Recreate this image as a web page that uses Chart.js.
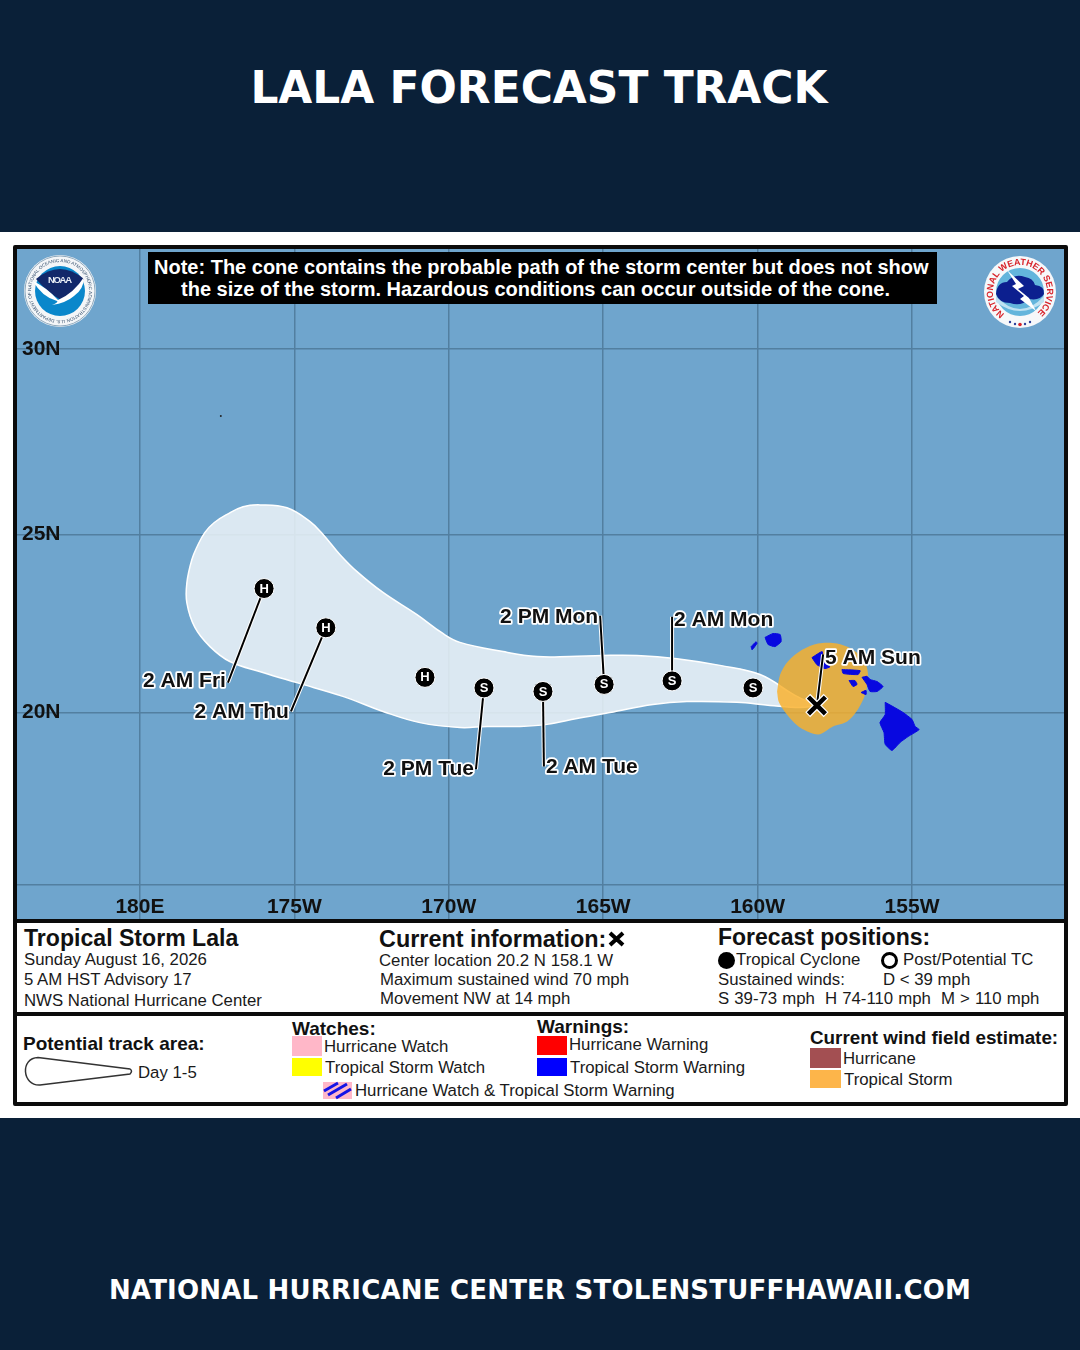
<!DOCTYPE html>
<html>
<head>
<meta charset="utf-8">
<title>Lala forecast track</title>
<script src="https://cdn.jsdelivr.net/npm/chart.js@4"></script>
<style>
html,body{margin:0;padding:0;background:#0a2038;}
#page{position:relative;width:1080px;height:1350px;overflow:hidden;background:#0a2038;font-family:"Liberation Sans",Arial,sans-serif;color:#1a1a1a;}
#white{position:absolute;left:0;top:232px;width:1080px;height:886px;background:#fff;}
#frame{position:absolute;left:13px;top:245px;width:1047px;height:853px;border:4px solid #0b0b0b;border-radius:2px;}
.rule{position:absolute;left:13px;width:1055px;height:4px;background:#0b0b0b;}
#map{position:absolute;left:17px;top:249px;background:#6fa5cd;}
.t{position:absolute;white-space:nowrap;line-height:22px;transform:translateY(-50%);font-size:16.800px;margin-top:1px;}
.b{font-weight:bold;font-size:23.100px;color:#111;margin-top:0;}
.h{font-weight:bold;font-size:19px;color:#111;}
.box{position:absolute;}
.head{position:absolute;left:0;width:1080px;text-align:center;color:#fff;font-family:"DejaVu Sans",sans-serif;font-weight:bold;transform:translateY(-50%);}
#note{position:absolute;left:148px;top:252px;width:789px;height:52px;background:#000;color:#fff;font-weight:bold;font-size:20px;line-height:22px;text-align:center;}
#note div{position:absolute;white-space:nowrap;}
svg{position:absolute;overflow:visible;}
</style>
</head>
<body>
<div id="page">
  <div class="head" style="top:87px;font-size:43.900px;margin-left:-1px;">LALA FORECAST TRACK</div>
  <div id="white"></div>
  <div id="frame"></div>
  <canvas id="map" width="1047" height="670"></canvas>
  <div class="rule" style="top:919px"></div>
  <div class="rule" style="top:1012px"></div>

  <div id="note">
    <div style="left:6px;top:4px">Note: The cone contains the probable path of the storm center but does not show</div>
    <div style="left:33px;top:26px">the size of the storm. Hazardous conditions can occur outside of the cone.</div>
  </div>

  <!-- NOAA logo -->
  <svg style="left:24px;top:255px" width="72" height="72" viewBox="0 0 72 72">
    <circle cx="36" cy="36" r="36" fill="#f4f6f8"/>
    <circle cx="36" cy="36" r="35" fill="none" stroke="#8fa9bd" stroke-width="1"/>
    <defs><path id="ringN" d="M7 36a29 29 0 1 1 58 0a29 29 0 1 1 -58 0"/></defs>
    <text font-size="4.600" fill="#35506e" font-family="Liberation Sans"><textPath href="#ringN">NATIONAL OCEANIC AND ATMOSPHERIC ADMINISTRATION  U.S. DEPARTMENT OF COMMERCE</textPath></text>
    <circle cx="36" cy="36" r="25" fill="#0a87cb"/>
    <path d="M12 24 Q36 4 60 24 Q50 38 37 45 Q24 38 12 24Z" fill="#12286a"/>
    <path d="M9 26 Q22 32 34 45 Q50 38 60 22 Q60 34 50 41 Q42 48 28 50 Q35 47 33 46 Q18 42 9 26Z" fill="#fff"/>
    <text x="36" y="28" text-anchor="middle" font-size="9.500" font-weight="bold" fill="#e8edf5" font-family="Liberation Sans" textLength="24">NOAA</text>
  </svg>

  <!-- NWS logo -->
  <svg style="left:983px;top:256px" width="74" height="72" viewBox="0 0 74 72">
    <circle cx="37" cy="36" r="36" fill="#f6f8fa"/>
    <defs><path id="ringW" d="M21.500 58.100A27 27 0 1 1 52.500 58.100"/></defs>
    <text font-size="9" font-weight="bold" fill="#d8232a" font-family="Liberation Sans"><textPath href="#ringW" textLength="134" lengthAdjust="spacing">NATIONAL WEATHER SERVICE</textPath></text>
    <circle cx="37" cy="36" r="24" fill="#63b5dc"/>
    <path d="M13 40 Q37 66 61 40 L61 46 Q37 64 13 46Z" fill="#bfe2f2"/>
    <path d="M13 38 Q14 26 24 26 Q31 17 42 21 Q50 22 52 29 Q62 30 61 38 Q57 45 46 43 Q38 51 27 47 Q16 47 13 38Z" fill="#0c1f8f"/>
    <path d="M24 14 L41 30 L35 33 L46 42 L53 55 L37 43 L41 40 L29 30 L33 28Z" fill="#fff"/>
    <circle cx="27" cy="66" r="1.200" fill="#2a3f9a"/><circle cx="32" cy="68" r="1.200" fill="#2a3f9a"/>
    <circle cx="37" cy="68.500" r="1.800" fill="#d8232a"/>
    <circle cx="42" cy="68" r="1.200" fill="#2a3f9a"/><circle cx="47" cy="66" r="1.200" fill="#2a3f9a"/>
  </svg>

  <div class="t b" style="left:24px;top:938px">Tropical Storm Lala</div>
  <div class="t" style="left:24px;top:959px">Sunday August 16, 2026</div>
  <div class="t" style="left:24px;top:979px">5 AM HST Advisory 17</div>
  <div class="t" style="left:24px;top:1000px">NWS National Hurricane Center</div>

  <div class="t b" style="left:379px;top:939px;font-size:23.400px">Current information:</div>
  <svg style="left:608px;top:931px" width="17" height="16"><path d="M2 2L15 14M15 2L2 14" stroke="#000" stroke-width="4"/></svg>
  <div class="t" style="left:379px;top:960px">Center location 20.2 N 158.1 W</div>
  <div class="t" style="left:380px;top:979px">Maximum sustained wind 70 mph</div>
  <div class="t" style="left:380px;top:998px">Movement NW at 14 mph</div>

  <div class="t b" style="left:718px;top:937px;font-size:23px">Forecast positions:</div>
  <div class="box" style="left:718px;top:952px;width:17px;height:17px;border-radius:50%;background:#000"></div>
  <div class="t" style="left:736px;top:959px">Tropical Cyclone</div>
  <div class="box" style="left:881px;top:952px;width:11px;height:11px;border-radius:50%;border:3px solid #000"></div>
  <div class="t" style="left:903px;top:959px">Post/Potential TC</div>
  <div class="t" style="left:718px;top:979px">Sustained winds:</div>
  <div class="t" style="left:883px;top:979px">D &lt; 39 mph</div>
  <div class="t" style="left:718px;top:998px;white-space:pre;word-spacing:0.400px">S 39-73 mph  H 74-110 mph  M &gt; 110 mph</div>

  <div class="t h" style="left:23px;top:1043px">Potential track area:</div>
  <svg style="left:24px;top:1056px" width="110" height="31"><path d="M14 1.500 L106 13 Q109 15 106 18 L16 29 C-2 30 -4 2 14 1.500Z" fill="#fff" stroke="#333" stroke-width="1.500"/></svg>
  <div class="t" style="left:138px;top:1072px">Day 1-5</div>

  <div class="t h" style="left:292px;top:1028px">Watches:</div>
  <div class="box" style="left:292px;top:1036px;width:30px;height:20px;background:#ffb7c8"></div>
  <div class="t" style="left:324px;top:1046px">Hurricane Watch</div>
  <div class="box" style="left:292px;top:1058px;width:30px;height:18px;background:#ffff00"></div>
  <div class="t" style="left:325px;top:1067px">Tropical Storm Watch</div>
  <svg style="left:323px;top:1082px" width="29" height="17">
    <rect width="29" height="17" fill="#ffb7c8"/>
    <path d="M1 9L15 1M5 13L24 2M13 16L28 7" stroke="#1414e6" stroke-width="3"/>
  </svg>
  <div class="t" style="left:355px;top:1090px">Hurricane Watch &amp; Tropical Storm Warning</div>

  <div class="t h" style="left:537px;top:1026px">Warnings:</div>
  <div class="box" style="left:537px;top:1036px;width:30px;height:19px;background:#ff0000"></div>
  <div class="t" style="left:569px;top:1044px">Hurricane Warning</div>
  <div class="box" style="left:537px;top:1058px;width:30px;height:18px;background:#0000ff"></div>
  <div class="t" style="left:570px;top:1067px">Tropical Storm Warning</div>

  <div class="t h" style="left:810px;top:1037px;font-size:18.850px">Current wind field estimate:</div>
  <div class="box" style="left:810px;top:1048px;width:31px;height:20px;background:#a34f52"></div>
  <div class="t" style="left:843px;top:1058px">Hurricane</div>
  <div class="box" style="left:810px;top:1070px;width:31px;height:18px;background:#fdb54a"></div>
  <div class="t" style="left:844px;top:1079px">Tropical Storm</div>

  <div class="head" style="top:1290px;font-size:26px;letter-spacing:0.200px;">NATIONAL HURRICANE CENTER STOLENSTUFFHAWAII.COM</div>
</div>

<script>
// longitudes are degrees west, so 180 = 180E/W line
var lonTicks = [180, 175, 170, 165, 160, 155];
var lonTickLabels = ['180E', '175W', '170W', '165W', '160W', '155W'];
var latTicks = [15, 20, 25, 30];
var latTickLabels = ['', '20N', '25N', '30N'];

var coneLon = [158.08,158.79,159.92,161.22,162.61,163.91,165.01,166.08,167.14,168.24,169.64,170.19,171.03,172.13,172.97,173.52,174.07,174.49,175.24,176.11,176.66,177.18,177.60,177.90,178.15,178.32,178.48,178.48,178.22,177.73,177.09,176.02,174.92,173.43,172.13,170.93,169.64,168.76,167.69,166.82,165.85,164.78,163.39,162.29,160.67,159.60,158.63,158.08];
var coneLat = [20.20,20.49,21.08,21.34,21.53,21.62,21.62,21.59,21.59,21.73,21.99,22.24,22.77,23.39,23.97,24.44,25.00,25.35,25.73,25.81,25.76,25.55,25.32,25.05,24.66,24.30,23.66,23.10,22.41,21.87,21.45,21.14,20.85,20.46,20.03,19.71,19.57,19.60,19.60,19.66,19.83,20.00,20.23,20.31,20.29,20.20,20.14,20.20];

var windLon = [159.37,159.27,159.02,158.56,158.04,157.43,156.91,156.52,156.42,156.52,156.75,157.10,157.56,158.04,158.63,159.05,159.31,159.37];
var windLat = [20.60,21.08,21.45,21.78,21.96,21.96,21.78,21.42,21.00,20.51,20.09,19.74,19.60,19.37,19.57,19.94,20.29,20.60];

var hawaiiLon = [155.87,155.62,155.29,155.00,154.90,154.77,155.13,155.39,155.65,155.87,155.91,156.04,155.87,155.87];
var hawaiiLat = [20.29,20.17,20.00,19.80,19.60,19.51,19.31,19.14,18.91,19.09,19.43,19.71,19.94,20.29];
var mauiLon = [156.62,156.46,156.36,156.13,155.94,156.13,156.36,156.46,156.62];
var mauiLat = [21.00,21.03,20.94,20.88,20.74,20.60,20.60,20.80,21.00];
var molokaiLon = [157.27,156.68,156.75,157.23,157.27];
var molokaiLat = [21.22,21.19,21.08,21.11,21.22];
var lanaiLon = [157.04,156.85,156.78,156.91,157.04];
var lanaiLat = [20.91,20.91,20.80,20.74,20.91];
var kahoolaweLon = [156.65,156.49,156.49,156.65];
var kahoolaweLat = [20.57,20.63,20.51,20.57];
var oahuLon = [158.24,157.91,157.88,157.66,157.82,158.08,158.24];
var oahuLat = [21.56,21.73,21.45,21.30,21.25,21.36,21.56];
var kauaiLon = [159.76,159.50,159.27,159.24,159.44,159.66,159.76];
var kauaiLat = [22.13,22.24,22.21,22.01,21.87,21.93,22.13];
var niihauLon = [160.21,160.05,160.02,160.18,160.21];
var niihauLat = [21.87,22.01,21.96,21.78,21.87];

var forecastLon = [175.98,173.98,170.77,168.86,166.95,164.97,162.77,160.15];
var forecastLat = [23.50,22.40,21.00,20.70,20.60,20.80,20.90,20.70];
var forecastType = ['H','H','H','S','S','S','S','S'];
var currentLon = [158.08];
var currentLat = [20.20];
var strayLon = [177.38];
var strayLat = [28.22];

var labelText = ['2 AM Fri','2 AM Thu','2 PM Tue','2 AM Tue','2 PM Mon','2 AM Mon','5 AM Sun'];
var labelFromLon = [175.98,173.98,168.86,166.95,164.97,162.77,158.08];
var labelFromLat = [23.50,22.40,20.70,20.60,20.80,20.90,20.20];
var labelEndLon = [177.15,175.11,169.12,166.92,165.10,162.77,157.88];
var labelEndLat = [20.85,20.03,18.37,18.45,22.74,22.71,21.65];
var labelAlign = ['right','right','right','left','right','left','left'];
var labelNudge = [-1,1,0,1,2,3,4];

function merc(lat){
    return Math.log(Math.tan(Math.PI / 4 + lat * Math.PI / 360));
}
function pts(lons, lats){
    return lons.map(function(lon, i){ return {x: lon, y: merc(lats[i])}; });
}
function shape(lons, lats, fill, line, lineW, order, tension){
    return {
        data: pts(lons, lats), showLine: true, fill: 'shape',
        backgroundColor: fill, borderColor: line, borderWidth: lineW,
        pointRadius: 0, order: order, tension: tension || 0
    };
}

var datasets = [
    shape(coneLon, coneLat, 'rgba(236,243,248,0.86)', '#ffffff', 1.5, 8, 0.4),
    shape(windLon, windLat, 'rgba(250,176,40,0.82)', 'rgba(0,0,0,0)', 0, 7, 0.3)
];
[[hawaiiLon, hawaiiLat], [mauiLon, mauiLat], [molokaiLon, molokaiLat], [lanaiLon, lanaiLat],
 [kahoolaweLon, kahoolaweLat], [oahuLon, oahuLat], [kauaiLon, kauaiLat], [niihauLon, niihauLat]].forEach(function(isl){
    datasets.push(shape(isl[0], isl[1], '#0808e0', '#0808e0', 1, 6, 0.15));
});
labelText.forEach(function(t, i){
    var seg = pts([labelFromLon[i], labelEndLon[i]], [labelFromLat[i], labelEndLat[i]]);
    datasets.push({data: seg, showLine: true, borderColor: '#ffffff', borderWidth: 4, pointRadius: 0, order: 5});
    datasets.push({data: seg, showLine: true, borderColor: '#000000', borderWidth: 2, pointRadius: 0, order: 4});
});
var forecastSet = {
    data: pts(forecastLon, forecastLat), pointRadius: 10, pointHoverRadius: 10,
    backgroundColor: '#000000', borderColor: '#ffffff', pointBorderWidth: 1, order: 2
};
datasets.push(forecastSet);
datasets.push({data: pts(currentLon, currentLat), pointStyle: 'crossRot', pointRadius: 13, pointBorderWidth: 7, borderColor: '#ffffff', order: 3});
datasets.push({data: pts(currentLon, currentLat), pointStyle: 'crossRot', pointRadius: 12, pointBorderWidth: 4.5, borderColor: '#000000', order: 1});
datasets.push({data: pts(strayLon, strayLat), pointRadius: 1, backgroundColor: '#222222', borderWidth: 0, order: 1});

var mapText = {
    id: 'mapText',
    afterDatasetsDraw: function(chart){
        var c = chart.ctx, sx = chart.scales.x, sy = chart.scales.y;
        c.save();
        c.textBaseline = 'middle';
        // type letters in the forecast circles
        var idx = chart.data.datasets.indexOf(forecastSet);
        c.font = 'bold 13px "Liberation Sans"';
        c.textAlign = 'center';
        c.fillStyle = '#ffffff';
        chart.getDatasetMeta(idx).data.forEach(function(p, i){
            c.fillText(forecastType[i], p.x, p.y + 0.5);
        });
        // time labels at the end of the leader lines
        c.font = 'bold 21px "Liberation Sans"';
        c.lineJoin = 'round';
        labelText.forEach(function(t, i){
            var x = sx.getPixelForValue(labelEndLon[i]);
            var y = sy.getPixelForValue(merc(labelEndLat[i])) + labelNudge[i];
            c.textAlign = labelAlign[i];
            x += labelAlign[i] == 'right' ? -2 : 2;
            c.strokeStyle = '#ffffff';
            c.lineWidth = 3.5;
            c.strokeText(t, x, y);
            c.fillStyle = '#111111';
            c.fillText(t, x, y);
        });
        c.restore();
    }
};

var mapctx = document.getElementById('map').getContext('2d');
var mapchart = new Chart(mapctx, {
    type: 'scatter',
    data: {datasets: datasets},
    options: {
        responsive: false,
        animation: false,
        events: [],
        layout: {padding: 0, autoPadding: false},
        plugins: {legend: {display: false}, tooltip: {enabled: false}},
        scales: {
            x: {
                type: 'linear', reverse: true, min: 150.08, max: 183.98,
                afterBuildTicks: function(s){ s.ticks = lonTicks.map(function(v){ return {value: v}; }); },
                afterFit: function(s){ s.height = 34; s.paddingLeft = 0; s.paddingRight = 0; },
                border: {display: false},
                grid: {color: '#527fa0', lineWidth: 1.5, tickLength: 34},
                ticks: {
                    autoSkip: false, maxRotation: 0, padding: -24, color: '#111111',
                    font: {family: 'Liberation Sans', size: 21, weight: 'bold'},
                    callback: function(v){ return lonTickLabels[lonTicks.indexOf(v)]; }
                }
            },
            y: {
                type: 'linear', min: merc(15), max: 0.6023,
                afterBuildTicks: function(s){ s.ticks = latTicks.map(function(v){ return {value: merc(v)}; }); },
                afterFit: function(s){ s.width = 0; s.paddingTop = 0; s.paddingBottom = 0; },
                border: {display: false},
                grid: {color: '#527fa0', lineWidth: 1.5, drawTicks: false},
                ticks: {
                    mirror: true, padding: 5, color: '#111111',
                    font: {family: 'Liberation Sans', size: 21, weight: 'bold'},
                    callback: function(v, i){ return latTickLabels[i]; }
                }
            }
        }
    },
    plugins: [mapText]
});
</script>
</body>
</html>
